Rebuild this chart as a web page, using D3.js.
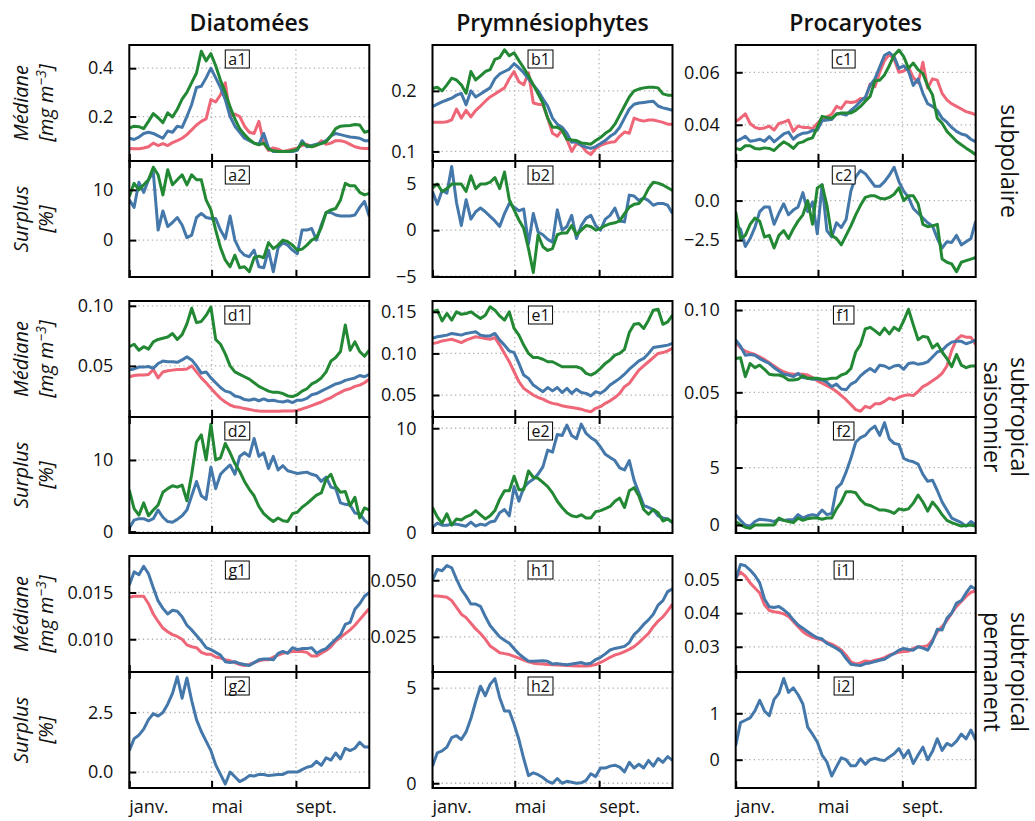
<!DOCTYPE html>
<html><head><meta charset="utf-8">
<script src="https://cdn.jsdelivr.net/npm/d3@7"></script>
<style>body{margin:0;background:#fff}svg{display:block}text{font-family:"Open Sans","Noto Sans",sans-serif;fill:#111}</style>
</head><body><svg id="c" width="1035" height="821"></svg>
<script>
// ---- data (weekly points, day-of-year 0..350) ----
const weekDays = d3.range(51).map(i => i * 7);
const monthLabels = ["janv.", "mai", "sept."];
const monthDays = [0, 120, 243];
const columnTitles = ["Diatomées", "Prymnésiophytes", "Procaryotes"];
const rowTitles = [["subpolaire"], ["subtropical", "saisonnier"], ["subtropical", "permanent"]];

const a1_red = [0.068,0.067,0.067,0.07,0.075,0.09,0.08,0.088,0.08,0.092,0.1,0.11,0.125,0.145,0.165,0.18,0.19,0.27,0.26,0.29,0.34,0.2,0.21,0.2,0.16,0.135,0.13,0.18,0.09,0.06,0.07,0.065,0.055,0.06,0.065,0.07,0.08,0.085,0.075,0.08,0.1,0.085,0.09,0.1,0.1,0.095,0.085,0.075,0.07,0.068,0.068];
const a1_blue = [0.11,0.105,0.115,0.13,0.135,0.13,0.12,0.11,0.14,0.135,0.16,0.155,0.2,0.25,0.32,0.325,0.36,0.40,0.36,0.32,0.27,0.2,0.16,0.135,0.11,0.1,0.09,0.085,0.13,0.07,0.055,0.055,0.055,0.055,0.055,0.06,0.1,0.075,0.08,0.085,0.09,0.1,0.12,0.13,0.125,0.12,0.115,0.113,0.11,0.1,0.1];
const a1_green = [0.152,0.16,0.158,0.15,0.18,0.212,0.195,0.175,0.215,0.198,0.23,0.272,0.30,0.34,0.38,0.47,0.43,0.46,0.41,0.35,0.30,0.24,0.19,0.15,0.125,0.105,0.09,0.083,0.09,0.065,0.058,0.055,0.055,0.055,0.058,0.065,0.09,0.08,0.075,0.082,0.088,0.095,0.12,0.15,0.16,0.162,0.163,0.167,0.165,0.135,0.14];
const a2_blue = [8,6.5,11.5,9.5,12,13.5,2,5.8,2.7,3.5,4.5,3,0.5,1,4.5,5.3,4.5,4.3,4.3,2,0.3,4.8,0,-2,-3,-3.3,-2,-5.3,-5.5,-2,-6.3,-1.5,-0.5,-1,-2,-2.7,2,2,2.3,0,3,5.5,5.5,5,4.8,4.8,4.8,5,6.5,7.7,4.7];
const a2_green = [8.7,11.3,10,11,12,14.5,13,9,14,11,12,13,11,13,12,12,8,6,2,-1.5,-4,-5.3,-3,-5.5,-5.3,-6.3,-3.5,-3.2,-3.5,-0.5,-1.7,-1,0,-0.3,-1,-2,-1.8,-1,0,0.5,2.5,5.5,6,6.3,8,11.3,10.8,10.8,9.5,9,9.3];

const b1_red = [0.148,0.148,0.148,0.149,0.152,0.17,0.155,0.168,0.157,0.168,0.175,0.183,0.19,0.195,0.2,0.205,0.22,0.232,0.215,0.21,0.23,0.18,0.178,0.177,0.155,0.13,0.125,0.135,0.12,0.1,0.113,0.11,0.1,0.095,0.105,0.11,0.113,0.115,0.116,0.125,0.132,0.13,0.155,0.152,0.15,0.152,0.152,0.15,0.148,0.145,0.145];
const b1_blue = [0.174,0.178,0.182,0.185,0.188,0.193,0.196,0.177,0.2,0.19,0.195,0.2,0.205,0.22,0.228,0.232,0.236,0.245,0.238,0.23,0.22,0.21,0.2,0.187,0.175,0.155,0.145,0.14,0.13,0.115,0.116,0.11,0.107,0.105,0.108,0.113,0.118,0.125,0.13,0.14,0.155,0.17,0.178,0.18,0.181,0.182,0.183,0.175,0.172,0.17,0.168];
const b1_green = [0.204,0.206,0.2,0.21,0.221,0.218,0.21,0.196,0.232,0.218,0.225,0.232,0.235,0.252,0.255,0.268,0.258,0.263,0.25,0.238,0.225,0.21,0.195,0.18,0.155,0.14,0.14,0.135,0.12,0.119,0.118,0.114,0.113,0.112,0.118,0.123,0.13,0.135,0.145,0.16,0.175,0.19,0.2,0.203,0.205,0.206,0.206,0.205,0.195,0.193,0.193];
const b2_blue = [4.2,2.8,4.3,4,6.9,3,0.5,3.3,1.2,2,2.4,2,1.5,1,0.4,1.8,2.9,2.5,2.1,2.3,-1.5,1.8,-0.2,-0.5,-1,-1.3,2.2,0,0.4,1.6,-0.9,0.5,1.3,1.6,0.5,0,1.2,1.6,2.4,1,0.9,3.8,3.7,3.2,3.5,3.2,2.7,2.9,2.9,2.7,1.8];
const b2_green = [4.6,5,4.2,4.5,5,5,5,4.2,5.9,4.5,5,5,5.2,5.7,4.5,6.3,3.3,2.2,1.1,0.2,-2,-4.6,-0.5,-1.8,-2.2,-2,-0.5,-0.3,-0.3,0.5,-0.5,0,0.5,0.4,0,0.2,0.5,0.7,0.8,1,1.8,2.5,2.8,2.9,3.5,4.5,5.2,5.1,4.9,4.6,4.3];

const c1_red = [0.0413,0.0425,0.0442,0.0405,0.039,0.0385,0.0388,0.0395,0.038,0.0405,0.041,0.0418,0.0375,0.0395,0.039,0.039,0.0385,0.0405,0.0425,0.043,0.044,0.047,0.0462,0.0488,0.0485,0.0488,0.05,0.0498,0.0555,0.0545,0.06,0.0645,0.0668,0.065,0.06,0.0605,0.062,0.058,0.056,0.0638,0.054,0.0575,0.057,0.052,0.0495,0.048,0.047,0.046,0.045,0.0445,0.0438];
const c1_blue = [0.0337,0.0345,0.0356,0.0337,0.034,0.0345,0.0337,0.0355,0.0335,0.035,0.0365,0.0372,0.0345,0.036,0.0368,0.037,0.0378,0.038,0.0415,0.0418,0.042,0.0442,0.0442,0.0437,0.0455,0.047,0.049,0.0505,0.055,0.0575,0.062,0.0665,0.0675,0.066,0.0615,0.0625,0.0605,0.055,0.0575,0.052,0.048,0.047,0.0455,0.0425,0.041,0.039,0.0375,0.0365,0.036,0.0345,0.0335];
const c1_green = [0.031,0.0305,0.032,0.032,0.031,0.0308,0.0312,0.031,0.0302,0.032,0.0335,0.0325,0.031,0.033,0.0335,0.0345,0.035,0.039,0.0432,0.0428,0.0425,0.044,0.0445,0.0445,0.0445,0.0455,0.047,0.049,0.0508,0.0568,0.057,0.059,0.0625,0.0665,0.0685,0.066,0.0615,0.0635,0.061,0.0595,0.0548,0.0514,0.0425,0.0406,0.0375,0.0356,0.0337,0.0324,0.0311,0.0299,0.0286];
const c2_blue = [-1.55,-1.8,-2.9,-2.4,-1.7,-0.7,-0.4,-0.4,-1.5,-0.8,-0.2,-0.9,-0.6,-0.4,0.5,-0.7,-0.1,-2.1,1.0,-1.9,-2.3,-1.4,-1.7,-1.2,0.6,1.5,1.9,1.7,1.3,0.9,0.9,1.2,1.6,2.1,1.2,0.6,0.2,-0.5,-0.8,-1.1,-1.4,-1.6,-2.4,-3.0,-2.6,-2.65,-2.2,-2.8,-2.6,-2.4,-1.3];
const c2_green = [-0.7,-2.4,-2.2,-1.5,-1.1,-1.3,-2.3,-2.2,-3.0,-2.2,-1.9,-2.4,-1.8,-1.3,-0.9,0.0,-1.5,0.8,1.0,-0.3,-2.2,-2.4,-2.8,-2.2,-1.6,-0.9,-0.3,0.2,0.3,0.3,0.15,0.1,0.2,0.4,0.8,0.0,0.3,0.3,-0.2,-1.5,-1.65,-1.6,-1.5,-3.7,-3.9,-4.0,-4.5,-3.9,-3.8,-3.7,-3.6];

const d1_red = [0.041,0.042,0.0425,0.0425,0.0428,0.047,0.04,0.045,0.046,0.0465,0.047,0.047,0.0475,0.05,0.045,0.04,0.036,0.0315,0.027,0.023,0.02,0.0175,0.016,0.0155,0.0145,0.0138,0.013,0.0125,0.0122,0.0122,0.0122,0.0122,0.0125,0.0125,0.0125,0.013,0.0142,0.0155,0.017,0.0185,0.02,0.022,0.0235,0.026,0.028,0.03,0.031,0.033,0.034,0.036,0.039];
const d1_blue = [0.0467,0.0475,0.049,0.049,0.0495,0.048,0.052,0.054,0.0535,0.0535,0.053,0.055,0.0575,0.055,0.05,0.044,0.045,0.04,0.036,0.032,0.029,0.028,0.025,0.024,0.022,0.0215,0.0225,0.021,0.0225,0.021,0.0215,0.0205,0.02,0.021,0.0195,0.0215,0.0215,0.023,0.026,0.027,0.029,0.031,0.033,0.035,0.036,0.038,0.039,0.04,0.042,0.041,0.043];
const d1_green = [0.066,0.068,0.063,0.066,0.064,0.07,0.072,0.073,0.074,0.077,0.072,0.076,0.085,0.098,0.086,0.087,0.092,0.099,0.072,0.068,0.06,0.05,0.045,0.043,0.041,0.039,0.036,0.033,0.031,0.029,0.028,0.028,0.027,0.025,0.0245,0.026,0.029,0.031,0.035,0.037,0.04,0.045,0.054,0.057,0.062,0.084,0.063,0.07,0.062,0.058,0.063];
const d2_blue = [0.5,1.6,1.8,1.8,1.5,1.8,3,2,1.4,1.3,1.7,2.2,3,5,7,5,4.5,9,6,8,8.7,9.3,8,10.5,11,10.5,13,10.5,11,8.8,10.5,8.6,9.2,8.5,8.3,8.1,8.2,8.3,8,7.8,7,7.6,6.2,6,4,3.8,3.7,2.6,2.5,1.6,1];
const d2_green = [5.8,3.2,2.3,4.0,2.2,3.0,3.7,5.5,6.0,6.4,6.2,6.5,4.3,8,12.5,13.5,10,15,10,10.3,12.3,11,9.5,8.4,7,5.9,5,3.5,2.5,1.9,1.4,1.9,1.5,1.4,2.5,2.7,3.4,3.9,4.5,5.1,5.4,7.3,8,6.3,5.5,5.6,3.6,4.8,1.9,3.3,3];

const e1_red = [0.112,0.113,0.115,0.116,0.117,0.115,0.113,0.116,0.118,0.12,0.119,0.118,0.117,0.119,0.11,0.1,0.09,0.078,0.066,0.058,0.054,0.05,0.047,0.045,0.042,0.04,0.039,0.037,0.036,0.035,0.034,0.033,0.031,0.03,0.034,0.036,0.04,0.043,0.047,0.052,0.06,0.064,0.072,0.08,0.085,0.09,0.095,0.1,0.101,0.103,0.106];
const e1_blue = [0.118,0.12,0.121,0.122,0.124,0.123,0.122,0.124,0.125,0.126,0.122,0.121,0.121,0.124,0.116,0.11,0.103,0.101,0.088,0.074,0.07,0.062,0.058,0.054,0.059,0.055,0.059,0.053,0.058,0.052,0.057,0.053,0.052,0.049,0.054,0.052,0.056,0.062,0.066,0.07,0.075,0.081,0.086,0.091,0.094,0.1,0.107,0.108,0.109,0.11,0.112];
const e1_green = [0.15,0.152,0.139,0.148,0.14,0.15,0.147,0.148,0.15,0.146,0.142,0.146,0.156,0.152,0.145,0.14,0.15,0.13,0.122,0.11,0.1,0.095,0.095,0.093,0.09,0.09,0.087,0.084,0.084,0.084,0.084,0.082,0.076,0.074,0.077,0.082,0.088,0.092,0.098,0.1,0.105,0.125,0.135,0.136,0.13,0.14,0.152,0.153,0.135,0.138,0.146];
const e2_blue = [0.5,0.9,0.7,0.7,0.8,0.8,0.7,0.6,1.0,0.6,0.8,0.7,1.0,1.1,1.9,2.2,1.6,4.4,3.0,4.3,4.8,5.1,5.6,6.3,7.9,7.7,9.4,9.3,10.3,9.3,9.0,10.4,9.5,9.1,8.8,8.2,7.5,7.2,6.9,6.2,6.0,6.9,5.0,3.8,2.6,2.4,2.2,1.6,1.4,1.3,0.95];
const e2_green = [2.4,1.5,0.9,1.8,0.7,1.3,1.2,1.5,1.7,2.1,1.7,1.3,1.6,2.1,3.2,4.0,4.0,5.4,4.1,4.1,5.9,5.3,5.2,4.8,4.4,3.8,3.0,2.4,1.9,1.6,1.5,1.7,1.4,1.4,2.0,2.1,2.3,2.5,3.0,3.3,2.4,4.0,4.3,3.5,2.2,1.75,2.2,1.9,1.1,1.3,0.95];

const f1_red = [0.0805,0.077,0.075,0.074,0.073,0.0715,0.07,0.068,0.066,0.064,0.0625,0.0615,0.061,0.061,0.061,0.0605,0.059,0.057,0.0555,0.054,0.0525,0.0505,0.048,0.0455,0.0425,0.0395,0.0385,0.0415,0.0405,0.043,0.043,0.0445,0.0465,0.0455,0.047,0.048,0.0485,0.048,0.0505,0.0535,0.055,0.057,0.059,0.0615,0.066,0.0755,0.082,0.0845,0.0835,0.0835,0.079];
const f1_blue = [0.0818,0.078,0.0725,0.073,0.0725,0.0705,0.069,0.0675,0.065,0.063,0.061,0.0605,0.0595,0.0615,0.059,0.0585,0.058,0.058,0.0575,0.056,0.0535,0.055,0.052,0.0515,0.055,0.0565,0.06,0.0625,0.0645,0.0625,0.0665,0.066,0.0645,0.066,0.0665,0.064,0.0675,0.068,0.067,0.0675,0.0685,0.0715,0.0745,0.0755,0.0785,0.0805,0.081,0.081,0.0795,0.0805,0.0818];
const f1_green = [0.0706,0.071,0.0595,0.0675,0.065,0.0665,0.064,0.061,0.0605,0.0605,0.0595,0.0575,0.0575,0.058,0.06,0.0585,0.0585,0.0585,0.058,0.058,0.0585,0.0585,0.0605,0.0615,0.0645,0.0745,0.079,0.0885,0.0895,0.0875,0.085,0.089,0.0855,0.0895,0.0875,0.0935,0.1005,0.091,0.082,0.084,0.0835,0.077,0.0795,0.0745,0.0705,0.0655,0.073,0.0665,0.065,0.066,0.066];
const f2_blue = [0.9,0.4,0.0,-0.1,0.3,0.5,0.45,0.4,0.3,0.5,0.4,0.45,0.45,0.9,0.6,0.8,0.9,0.8,1.3,0.9,1.0,3.2,3.6,4.6,5.8,7.2,7.6,7.8,8.3,8.6,7.8,8.9,7.5,7.1,7.0,5.8,5.6,5.5,5.3,4.4,3.8,3.9,3.0,2.0,1.3,0.6,0.4,0.2,-0.1,0.3,0.0];
const f2_green = [0.3,0.0,-0.2,-0.3,0.0,0.0,0.0,0.0,0.0,0.6,0.4,0.3,0.2,0.6,0.4,0.55,0.6,0.6,0.5,0.6,0.6,1.4,2.0,2.9,2.9,2.8,2.2,1.8,1.7,1.5,1.3,1.3,1.2,1.0,1.4,1.3,1.4,1.9,2.6,2.0,1.2,2.0,1.5,0.9,0.4,0.2,0.05,-0.1,-0.05,0.0,-0.1];

const g1_red = [0.0145,0.0146,0.0146,0.0146,0.0138,0.0127,0.0119,0.0112,0.0108,0.0105,0.0103,0.0100,0.0094,0.0092,0.0091,0.0086,0.0084,0.0084,0.0081,0.0080,0.0078,0.0077,0.0075,0.0073,0.0072,0.0073,0.0075,0.0077,0.0078,0.0078,0.0081,0.0083,0.0085,0.0086,0.0087,0.0087,0.0087,0.0086,0.0082,0.0082,0.0085,0.0088,0.0092,0.0098,0.0102,0.0106,0.0110,0.0115,0.0121,0.0127,0.0133];
const g1_blue = [0.0158,0.0172,0.0169,0.0178,0.0170,0.0155,0.0141,0.0133,0.0127,0.0131,0.0130,0.0124,0.0115,0.0110,0.0104,0.0098,0.0091,0.0089,0.0086,0.0083,0.0076,0.0075,0.0076,0.0074,0.0073,0.0072,0.0075,0.0078,0.0079,0.0079,0.0078,0.0085,0.0087,0.0085,0.0091,0.0089,0.0090,0.0090,0.0091,0.0085,0.0088,0.0090,0.0095,0.0100,0.0105,0.0116,0.0118,0.0132,0.0138,0.0146,0.0150];
const g2_blue = [0.9,1.4,1.55,1.8,2.2,2.45,2.35,2.5,2.85,3.3,4.0,3.1,3.95,3.0,2.2,1.7,1.3,0.9,0.3,-0.1,-0.5,0.0,-0.2,-0.4,-0.3,-0.15,-0.17,-0.1,-0.1,-0.15,-0.12,-0.1,-0.1,0.0,0.0,0.0,0.1,0.2,0.25,0.45,0.28,0.6,0.5,0.8,0.55,1.0,0.9,1.0,1.25,1.05,1.05];

const h1_red = [0.0431,0.043,0.0428,0.0425,0.041,0.038,0.035,0.0335,0.031,0.0285,0.0265,0.024,0.021,0.0195,0.018,0.0176,0.0172,0.0164,0.0156,0.0148,0.014,0.0134,0.0131,0.013,0.0128,0.0127,0.0126,0.0125,0.0124,0.0123,0.0122,0.0121,0.0121,0.0123,0.0128,0.0137,0.0148,0.016,0.017,0.0176,0.0185,0.0195,0.0207,0.0225,0.0245,0.0265,0.0295,0.032,0.0338,0.0365,0.0395];
const h1_blue = [0.050,0.0548,0.0542,0.0565,0.0555,0.0505,0.046,0.043,0.0395,0.0395,0.0385,0.034,0.030,0.0275,0.025,0.0235,0.0222,0.0198,0.0175,0.0158,0.0143,0.0142,0.0144,0.0145,0.0142,0.013,0.0132,0.0129,0.0127,0.013,0.0134,0.0137,0.013,0.0134,0.015,0.016,0.0175,0.0192,0.0199,0.0203,0.0208,0.0225,0.026,0.028,0.0305,0.0325,0.035,0.039,0.041,0.045,0.0462];
const h2_blue = [0.9,1.6,1.7,1.9,2.4,2.5,2.3,2.7,3.4,4.3,5.1,4.6,5.2,5.5,4.5,3.8,3.8,3.1,2.3,1.3,0.4,0.55,0.45,0.3,0.1,0.0,0.25,0.0,0.1,0.05,0.0,0.02,0.15,0.5,0.35,0.8,0.8,0.9,0.95,0.85,0.6,1.1,0.8,1.0,0.8,1.2,0.9,1.3,1.1,1.4,1.2];

const i1_red = [0.0505,0.0522,0.051,0.049,0.0475,0.046,0.0425,0.0408,0.0404,0.0402,0.0398,0.039,0.0375,0.036,0.0345,0.0335,0.0328,0.0324,0.032,0.0313,0.0308,0.030,0.029,0.0275,0.0255,0.0249,0.0252,0.0258,0.0256,0.026,0.0263,0.0268,0.0275,0.028,0.0284,0.0286,0.0287,0.0295,0.030,0.030,0.0303,0.032,0.0345,0.036,0.0378,0.040,0.042,0.0435,0.045,0.0462,0.0466];
const i1_blue = [0.050,0.0545,0.0541,0.0528,0.0512,0.049,0.0442,0.0419,0.0417,0.042,0.041,0.0398,0.038,0.0365,0.0355,0.0345,0.0335,0.0327,0.0323,0.031,0.0303,0.0295,0.0285,0.0265,0.0248,0.0246,0.0244,0.025,0.0252,0.0256,0.026,0.0263,0.0272,0.028,0.029,0.0295,0.0292,0.029,0.030,0.0296,0.029,0.0315,0.0352,0.035,0.0385,0.040,0.043,0.0437,0.046,0.048,0.0471];
const i2_blue = [0.3,0.8,0.85,0.9,1.05,1.28,1.05,0.95,1.3,1.43,1.75,1.45,1.55,1.4,1.2,0.7,0.55,0.38,0.1,-0.05,-0.35,-0.15,0.04,0.0,-0.13,-0.13,0.02,-0.1,0.0,0.03,0.0,-0.02,0.06,0.13,0.24,0.05,0.2,-0.08,0.1,0.27,0.0,0.18,0.45,0.2,0.35,0.3,0.4,0.55,0.45,0.64,0.42];

// ---- panel definitions ----
const RED = "#EE6677", BLUE = "#4477AA", GREEN = "#228833";
const panels = [
  {id:"a1", col:0, row:0, sub:0, dom:[0.016,0.496], ticks:[0.2,0.4], fmt:".1f", s:[[a1_red,RED],[a1_blue,BLUE],[a1_green,GREEN]]},
  {id:"a2", col:0, row:0, sub:1, dom:[-7.34,15.74], ticks:[0,10], fmt:"d", s:[[a2_blue,BLUE],[a2_green,GREEN]]},
  {id:"b1", col:1, row:0, sub:0, dom:[0.0842,0.2758], ticks:[0.1,0.2], fmt:".1f", s:[[b1_red,RED],[b1_blue,BLUE],[b1_green,GREEN]]},
  {id:"b2", col:1, row:0, sub:1, dom:[-5.08,7.5], ticks:[-5,0,5], fmt:"d", s:[[b2_blue,BLUE],[b2_green,GREEN]]},
  {id:"c1", col:2, row:0, sub:0, dom:[0.0262,0.0704], ticks:[0.04,0.06], fmt:".2f", s:[[c1_red,RED],[c1_blue,BLUE],[c1_green,GREEN]]},
  {id:"c2", col:2, row:0, sub:1, dom:[-4.83,2.5], ticks:[-2.5,0], fmt:".1f", s:[[c2_blue,BLUE],[c2_green,GREEN]]},
  {id:"d1", col:0, row:1, sub:0, dom:[0.0075,0.104], ticks:[0.05,0.10], fmt:".2f", s:[[d1_red,RED],[d1_blue,BLUE],[d1_green,GREEN]]},
  {id:"d2", col:0, row:1, sub:1, dom:[-0.2,16], ticks:[0,10], fmt:"d", s:[[d2_blue,BLUE],[d2_green,GREEN]]},
  {id:"e1", col:1, row:1, sub:0, dom:[0.0236,0.163], ticks:[0.05,0.10,0.15], fmt:".2f", s:[[e1_red,RED],[e1_blue,BLUE],[e1_green,GREEN]]},
  {id:"e2", col:1, row:1, sub:1, dom:[-0.05,11.08], ticks:[0,10], fmt:"d", s:[[e2_blue,BLUE],[e2_green,GREEN]]},
  {id:"f1", col:2, row:1, sub:0, dom:[0.035,0.1055], ticks:[0.05,0.10], fmt:".2f", s:[[f1_red,RED],[f1_blue,BLUE],[f1_green,GREEN]]},
  {id:"f2", col:2, row:1, sub:1, dom:[-0.7,9.4], ticks:[0,5], fmt:"d", s:[[f2_blue,BLUE],[f2_green,GREEN]]},
  {id:"g1", col:0, row:2, sub:0, dom:[0.0065,0.0189], ticks:[0.010,0.015], fmt:".3f", s:[[g1_red,RED],[g1_blue,BLUE]]},
  {id:"g2", col:0, row:2, sub:1, dom:[-0.67,4.2], ticks:[0,2.5], fmt:".1f", s:[[g2_blue,BLUE]]},
  {id:"h1", col:1, row:2, sub:0, dom:[0.0095,0.0607], ticks:[0.025,0.050], fmt:".3f", s:[[h1_red,RED],[h1_blue,BLUE]]},
  {id:"h2", col:1, row:2, sub:1, dom:[-0.25,5.85], ticks:[0,5], fmt:"d", s:[[h2_blue,BLUE]]},
  {id:"i1", col:2, row:2, sub:0, dom:[0.0225,0.057], ticks:[0.03,0.04,0.05], fmt:".2f", s:[[i1_red,RED],[i1_blue,BLUE]]},
  {id:"i2", col:2, row:2, sub:1, dom:[-0.61,1.89], ticks:[0,1], fmt:"d", s:[[i2_blue,BLUE]]},
];

// ---- layout ----
const svg = d3.select("#c");
const colLeft = [129.3, 432.5, 735.7], W = 240;
const groupTop = [45, 301, 556], H = 116;
const x = d3.scaleLinear().domain([0, 350]);
const minus = s => s.replace(/^-/, "\u2212");

columnTitles.forEach((t, c) => {
  svg.append("text").attr("x", colLeft[c] + W/2).attr("y", 31).attr("text-anchor","middle")
    .attr("font-size", 23).attr("font-weight", 600).text(t);
});

rowTitles.forEach((lines, r) => {
  const cy = groupTop[r] + H;
  const g = svg.append("g").attr("transform", `translate(${lines.length===1?1001:1011},${cy}) rotate(90)`);
  lines.forEach((l, k) => g.append("text").attr("x",0).attr("y", k*27).attr("text-anchor","middle")
    .attr("font-size", 23).text(l));
});

// left labels
for (let r = 0; r < 3; r++) {
  [[["Médiane"],["[mg m","\u22123","]"]], [["Surplus"],["[%]"]]].forEach((lab, sub) => {
    const cy = groupTop[r] + sub*H + H/2;
    const g = svg.append("g").attr("transform", `translate(0,${cy}) rotate(-90)`);
    g.append("text").attr("x",0).attr("y",28).attr("text-anchor","middle").attr("font-size",20).attr("font-style","italic").text(lab[0][0]);
    const t2 = g.append("text").attr("x",0).attr("y",53).attr("text-anchor","middle").attr("font-size",20).attr("font-style","italic");
    if (lab[1].length === 1) t2.text(lab[1][0]);
    else {
      t2.append("tspan").text(lab[1][0]);
      t2.append("tspan").attr("dy",-7).attr("font-size",14).text(lab[1][1]);
      t2.append("tspan").attr("dy",7).text(lab[1][2]);
    }
  });
}

panels.forEach(p => {
  const left = colLeft[p.col], top = groupTop[p.row] + p.sub*H;
  const xs = x.copy().range([left, left + W]);
  const ys = d3.scaleLinear().domain(p.dom).range([top + H, top]);
  const g = svg.append("g");
  const clipId = "clip-" + p.id;
  svg.append("clipPath").attr("id", clipId).append("rect").attr("x", left).attr("y", top).attr("width", W).attr("height", H);

  // grid
  p.ticks.forEach(v => g.append("line").attr("x1", left).attr("x2", left+W).attr("y1", ys(v)).attr("y2", ys(v))
    .attr("stroke","#b0b0b0").attr("stroke-width",1.3).attr("stroke-dasharray","1.3,3.2"));
  monthDays.slice(1).forEach(d => g.append("line").attr("x1", xs(d)).attr("x2", xs(d)).attr("y1", top).attr("y2", top+H)
    .attr("stroke","#b0b0b0").attr("stroke-width",1.3).attr("stroke-dasharray","1.3,3.2"));

  // lines
  const line = d3.line().x((d,i) => xs(weekDays[i])).y(d => ys(d));
  p.s.forEach(([vals, col]) => g.append("path").attr("d", line(vals)).attr("fill","none").attr("stroke", col)
    .attr("stroke-width", 3).attr("stroke-linejoin","round").attr("stroke-linecap","butt").attr("clip-path", `url(#${clipId})`));

  // y axis ticks (inward) and labels
  const yAxis = d3.axisLeft(ys).tickValues(p.ticks).tickSize(-7).tickPadding(16)
    .tickFormat(v => minus(d3.format(p.fmt)(v)));
  const ya = g.append("g").attr("transform", `translate(${left},0)`).call(yAxis);
  ya.select(".domain").remove();
  ya.selectAll("line").attr("stroke","#000").attr("stroke-width",2);
  ya.selectAll("text").attr("font-size",18).attr("fill","#111").attr("font-family",'"Open Sans",sans-serif');

  // x ticks (inward at bottom and top)
  const xAxisB = d3.axisBottom(xs).tickValues(monthDays).tickSize(-7).tickFormat("");
  const xb = g.append("g").attr("transform", `translate(0,${top+H})`).call(xAxisB);
  xb.select(".domain").remove(); xb.selectAll("line").attr("stroke","#000").attr("stroke-width",2);
  if (p.sub === 1) {
    const xAxisT = d3.axisTop(xs).tickValues(monthDays).tickSize(-7).tickFormat("");
    const xt = g.append("g").attr("transform", `translate(0,${top})`).call(xAxisT);
    xt.select(".domain").remove(); xt.selectAll("line").attr("stroke","#000").attr("stroke-width",2);
  }
  if (p.sub === 1 && p.row === 2) {
    monthDays.forEach((d, k) => g.append("text").attr("x", xs(d)).attr("y", 813).attr("font-size",18).text(monthLabels[k]));
  }

  // frame
  g.append("rect").attr("x", left).attr("y", top).attr("width", W).attr("height", H)
    .attr("fill","none").attr("stroke","#000").attr("stroke-width",2);

  // panel tag
  const tx = left + 0.45*W, ty = top + 14;
  const tag = g.append("g");
  const tt = tag.append("text").attr("x", tx).attr("y", ty).attr("text-anchor","middle").attr("dominant-baseline","central")
    .attr("font-size",16).text(p.id);
  const bb = tt.node().getBBox();
  tag.insert("rect","text").attr("x", bb.x-3).attr("y", ty-9).attr("width", bb.width+6).attr("height", 18)
    .attr("fill","#fff").attr("stroke","#000").attr("stroke-width",1);
});
</script></body></html>
